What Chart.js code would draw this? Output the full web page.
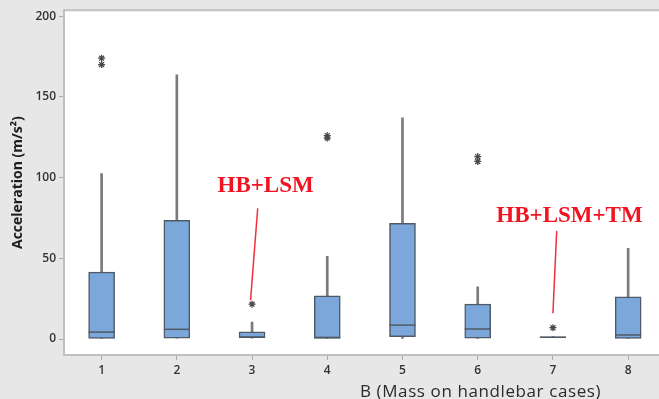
<!DOCTYPE html>
<html>
<head>
<meta charset="utf-8">
<script src="https://cdn.jsdelivr.net/npm/chart.js@4.4.1/dist/chart.umd.min.js"></script>
<style>
  html, body { margin: 0; padding: 0; background: #e7e7e7; overflow: hidden; }
  #wrap { width: 659px; height: 399px; }
  canvas { display: block; }
</style>
</head>
<body>
<div id="wrap"><canvas id="chart" width="659" height="399"></canvas></div>
<script>
// values (m/s^2)
const cases = [1, 2, 3, 4, 5, 6, 7, 8];
const whiskerLow = [0, 0.6, 0.5, 0, 0, 0, 1, 0];
const whiskerHigh = [102.5, 163.6, 10.5, 51.2, 137, 32.3, 1.5, 56.2];
const q1 = [0, 0.6, 0.8, 0, 1.4, 0.6, 0.8, 0];
const q3 = [41.4, 73.5, 4.5, 26.7, 71.6, 21.6, 1.4, 26.1];
const medians = [4.3, 6, 1.2, 1, 8.6, 6.2, 1.1, 2.5];

const outlierCase = [1, 1, 3, 4, 4, 6, 6, 7];
const outlierValue = [170, 174, 21.6, 124.5, 126, 110, 113, 7];

const yTicks = [0, 50, 100, 150, 200];

const labelTexts = ["HB+LSM", "HB+LSM+TM"];
const labelAt = [[3.18, 95], [7.22, 76]];
const pointerFrom = [[3.075, 81], [7.05, 67]];
const pointerTo = [[2.98, 24], [7.0, 16]];

const boxData = cases.map((c, i) => ({ x: c, y: [q1[i], q3[i]] }));
const whiskerData = cases.map((c, i) => ({ x: c, y: [whiskerLow[i], whiskerHigh[i]] }));
const outlierData = outlierCase.map((c, i) => ({ x: c, y: outlierValue[i] }));

const plotFrame = {
    id: "plotFrame",
    beforeDraw(chart) {
        const { ctx, chartArea: a } = chart;
        ctx.save();
        ctx.fillStyle = "#e7e7e7";
        ctx.fillRect(0, 0, chart.width, chart.height);
        ctx.fillStyle = "#ffffff";
        ctx.fillRect(a.left, a.top, chart.width - a.left, a.bottom - a.top);
        ctx.strokeStyle = "#c2c2c2";
        ctx.lineWidth = 2;
        ctx.beginPath();
        ctx.moveTo(a.left, a.top);
        ctx.lineTo(chart.width, a.top);
        ctx.stroke();
        ctx.restore();
    }
};

const medianLines = {
    id: "medianLines",
    afterDatasetsDraw(chart) {
        const { ctx } = chart;
        const meta = chart.getDatasetMeta(0);
        const y = chart.scales.y;
        ctx.save();
        ctx.strokeStyle = "#4f5a66";
        ctx.lineWidth = 1.5;
        meta.data.forEach((bar, i) => {
            const py = y.getPixelForValue(medians[i]);
            ctx.beginPath();
            ctx.moveTo(bar.x - bar.width / 2, py);
            ctx.lineTo(bar.x + bar.width / 2, py);
            ctx.stroke();
        });
        ctx.restore();
    }
};

const callouts = {
    id: "callouts",
    afterDraw(chart) {
        const { ctx, chartArea: a } = chart;
        const x = chart.scales.x;
        const y = chart.scales.y;
        ctx.save();
        ctx.strokeStyle = "#f0303c";
        ctx.lineWidth = 1.5;
        ctx.fillStyle = "#f01422";
        ctx.font = "bold 23px 'Liberation Serif'";
        ctx.textAlign = "center";
        ctx.textBaseline = "middle";
        labelTexts.forEach((text, i) => {
            ctx.fillText(text, x.getPixelForValue(labelAt[i][0]), y.getPixelForValue(labelAt[i][1]));
            ctx.beginPath();
            ctx.moveTo(x.getPixelForValue(pointerFrom[i][0]), y.getPixelForValue(pointerFrom[i][1]));
            ctx.lineTo(x.getPixelForValue(pointerTo[i][0]), y.getPixelForValue(pointerTo[i][1]));
            ctx.stroke();
        });

        // x axis title sits right of centre in the original
        ctx.fillStyle = "#2b2b2b";
        ctx.font = "17px 'Open Sans'";
        ctx.letterSpacing = "0.6px";
        ctx.textAlign = "left";
        ctx.textBaseline = "alphabetic";
        ctx.fillText("B (Mass on handlebar cases)", a.left + 296, 397);
        ctx.restore();
    }
};

new Chart(document.getElementById("chart"), {
    type: "bar",
    data: {
        datasets: [
            {
                data: boxData,
                backgroundColor: "#7ba7da",
                borderColor: "#4f5a66",
                borderWidth: 1.5,
                borderSkipped: false,
                barThickness: 26,
                grouped: false,
                order: 1
            },
            {
                data: whiskerData,
                backgroundColor: "#7a7a7a",
                borderWidth: 0,
                barThickness: 2,
                grouped: false,
                order: 2
            },
            {
                type: "scatter",
                data: outlierData,
                pointStyle: "star",
                radius: 3.5,
                borderColor: "#4a4a4a",
                borderWidth: 1.3,
                backgroundColor: "#4a4a4a",
                order: 0
            }
        ]
    },
    options: {
        responsive: false,
        animation: false,
        layout: { autoPadding: false, padding: { left: 0, top: 9, right: 0, bottom: 0 } },
        plugins: {
            legend: { display: false },
            tooltip: { enabled: false }
        },
        scales: {
            x: {
                type: "linear",
                offset: false,
                min: 0.5,
                max: 8.41,
                afterFit(scale) {
                    scale.height = 44;
                    scale.paddingLeft = 0;
                    scale.paddingRight = 0;
                },
                afterBuildTicks(scale) { scale.ticks = cases.map((c) => ({ value: c })); },
                ticks: {
                    padding: 3,
                    color: "#333333",
                    font: { family: "Open Sans", size: 12, weight: "600" },
                    callback: (v) => String(v)
                },
                grid: { offset: false, drawOnChartArea: false, drawTicks: true, tickLength: 5, color: "#a8a8a8" },
                border: { display: true, color: "#c0c0c0", width: 2 }
            },
            y: {
                min: -9.9,
                max: 203.7,
                afterFit(scale) { scale.width = 64; },
                afterBuildTicks(scale) { scale.ticks = yTicks.map((v) => ({ value: v })); },
                ticks: {
                    padding: 3,
                    color: "#333333",
                    font: { family: "Open Sans", size: 12, weight: "600" }
                },
                grid: { drawOnChartArea: false, drawTicks: true, tickLength: 5, color: "#a8a8a8" },
                border: { display: true, color: "#c0c0c0", width: 2 },
                title: {
                    display: true,
                    text: "Acceleration (m/s²)",
                    color: "#1e1e1e",
                    padding: { top: 10, bottom: 0 },
                    font: { family: "Open Sans", size: 14, weight: "bold" }
                }
            }
        }
    },
    plugins: [plotFrame, medianLines, callouts]
});
</script>
</body>
</html>
